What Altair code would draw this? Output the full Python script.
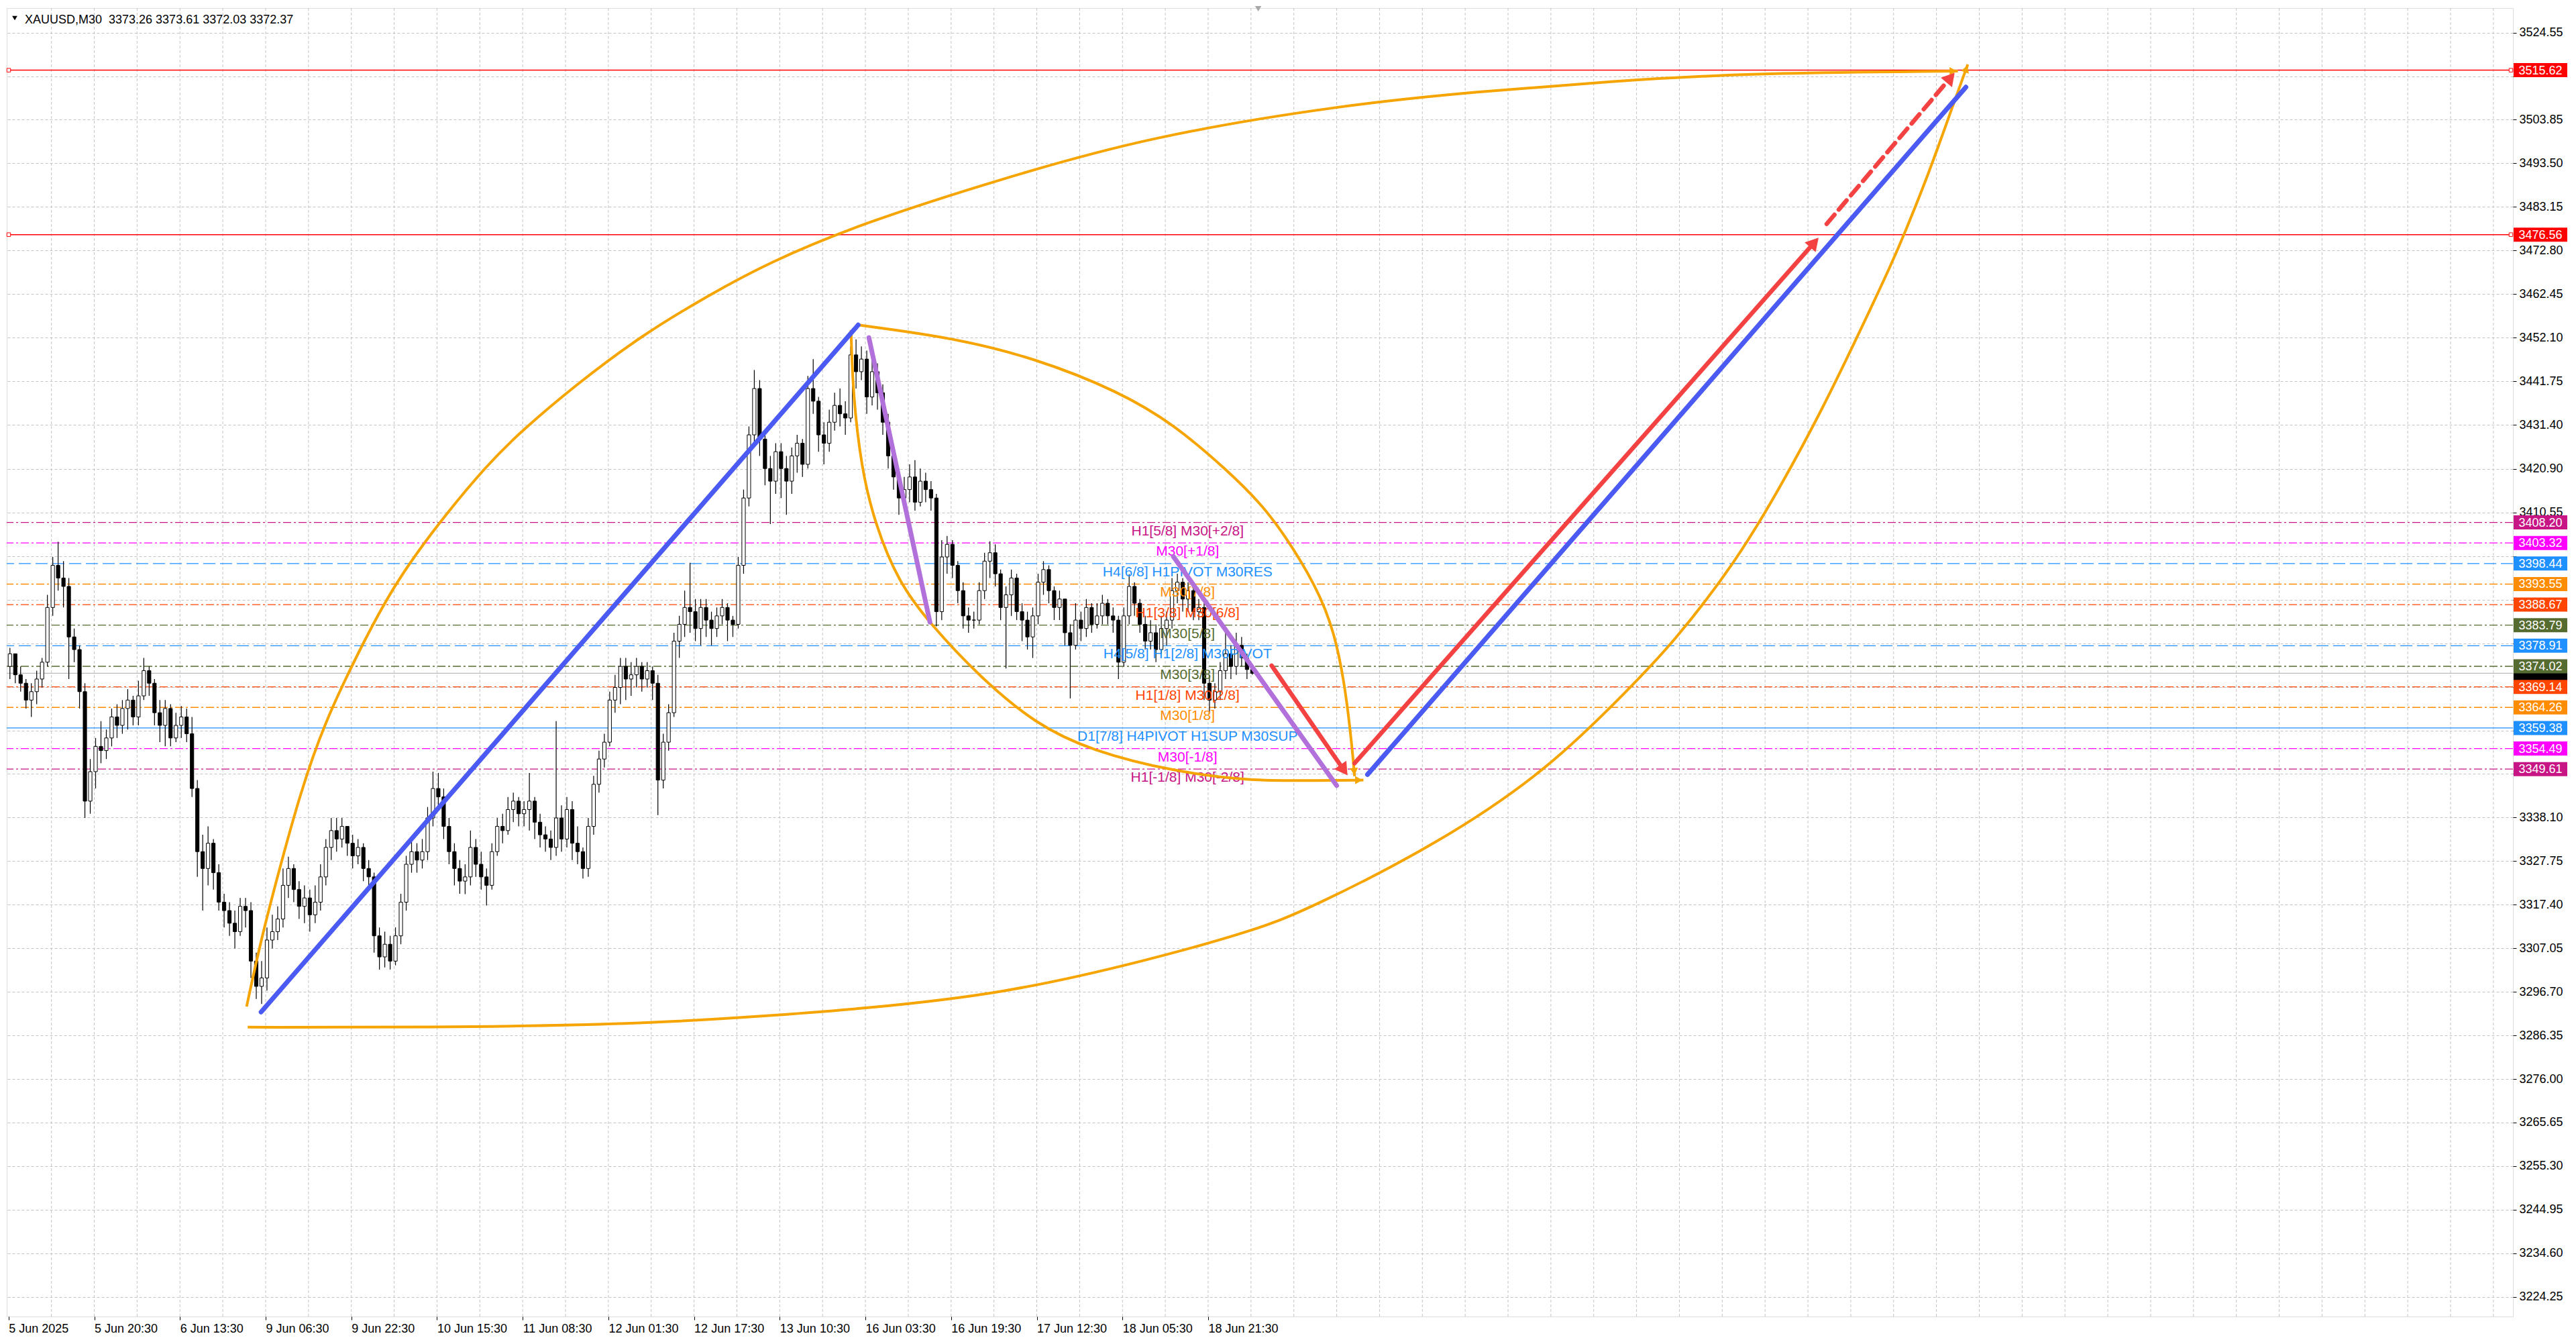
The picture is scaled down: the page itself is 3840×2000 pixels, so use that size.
import math
import altair as alt
import pandas as pd

# ---------------- data ----------------
first_open = 3374.0
closes = [
    3377, 3372, 3370, 3366, 3368, 3371, 3375, 3388, 3398, 3395,
    3393, 3381, 3378, 3368, 3342, 3349, 3355, 3354, 3357, 3362,
    3360, 3364, 3366, 3362, 3367, 3373, 3370, 3363, 3360, 3364,
    3357, 3360, 3362, 3358, 3345, 3330, 3326, 3332, 3325, 3318,
    3316, 3313, 3311, 3317, 3316, 3304, 3298, 3300, 3309, 3311,
    3314, 3322, 3326, 3321, 3317, 3319, 3315, 3318, 3324, 3331,
    3335, 3333, 3336, 3332, 3329, 3331, 3326, 3324, 3310, 3305,
    3308, 3304, 3310, 3318, 3327, 3330, 3328, 3330, 3338, 3345,
    3343, 3336, 3330, 3326, 3323, 3324, 3331, 3327, 3324, 3322,
    3330, 3336, 3335, 3340, 3342, 3339, 3340, 3342, 3337, 3334,
    3333, 3331, 3338, 3333, 3340, 3332, 3330, 3326, 3336, 3346,
    3352, 3356, 3366, 3369, 3374, 3371, 3372, 3374, 3371, 3373,
    3370, 3347, 3356, 3363, 3380, 3384, 3388, 3387, 3383, 3388,
    3385, 3383, 3386, 3388, 3385, 3384, 3398, 3414, 3429, 3440,
    3428, 3421, 3418, 3425, 3421, 3418, 3424, 3427, 3422, 3440,
    3437, 3429, 3427, 3432, 3436, 3434, 3433, 3448, 3444, 3447,
    3438, 3444, 3439, 3432, 3424, 3419, 3414, 3416, 3419, 3413,
    3418, 3416, 3414, 3387, 3400, 3403, 3398, 3392, 3386, 3385,
    3385, 3392, 3399, 3401, 3396, 3388, 3391, 3395, 3387, 3385,
    3381, 3386, 3394, 3397, 3392, 3388, 3390, 3382, 3379, 3385,
    3383, 3388, 3384, 3386, 3389, 3386, 3385, 3375, 3386, 3393,
    3389, 3384, 3380, 3382, 3378, 3383, 3385, 3392, 3394, 3390,
    3392, 3387, 3388, 3370, 3366, 3368, 3373, 3377, 3374, 3379,
    3376, 3373.26, 3372.37,
]
highs = [
    3378.4, 3377, 3374, 3371, 3370, 3373, 3376, 3391, 3400, 3403.6,
    3399, 3395, 3383, 3379, 3370, 3352, 3357, 3361, 3359, 3364,
    3365, 3366, 3368.6, 3367, 3370.6, 3376, 3374, 3371, 3366, 3366,
    3365, 3363, 3364.6, 3364, 3362, 3347, 3334, 3336, 3333, 3327,
    3320, 3318, 3316, 3319, 3319, 3318, 3306, 3304, 3312, 3315,
    3317, 3326, 3328.8, 3327, 3323, 3322, 3321, 3322, 3327, 3333,
    3338, 3338, 3338, 3336, 3334, 3333, 3332, 3328, 3325, 3312,
    3311, 3310, 3312, 3320, 3329, 3333, 3332, 3333, 3340.6, 3349,
    3348.7, 3345, 3338, 3332, 3328, 3327, 3335, 3333, 3330, 3326,
    3332, 3338, 3339, 3343, 3344, 3343, 3342, 3348.7, 3343, 3339,
    3336, 3335, 3361, 3341, 3343, 3342, 3336, 3331, 3338, 3348,
    3354, 3358, 3368, 3372, 3376, 3376, 3375, 3376, 3375, 3375,
    3374, 3372, 3358, 3365, 3382, 3386, 3392, 3398.6, 3390, 3390,
    3390, 3387, 3388, 3390, 3389, 3386, 3400, 3416, 3431, 3444.4,
    3442, 3430, 3424, 3427, 3427, 3424, 3426, 3429, 3428, 3443,
    3447, 3438, 3432, 3435, 3439, 3440, 3437, 3450, 3451.7, 3450,
    3449, 3447, 3446, 3441, 3434, 3426, 3421, 3419, 3422, 3423,
    3421, 3420, 3418, 3415, 3404, 3405, 3404, 3399, 3394, 3388,
    3387, 3394, 3401, 3403.7, 3403, 3397, 3393, 3397, 3396, 3389,
    3387, 3388, 3396, 3399, 3398, 3393, 3392, 3390, 3384, 3389,
    3387, 3390, 3389, 3389, 3391, 3390, 3388, 3386, 3388, 3395.9,
    3394, 3390, 3386, 3385, 3384, 3386, 3387, 3395, 3396, 3395,
    3394, 3393, 3390, 3389, 3372, 3370, 3375, 3383, 3379, 3382,
    3381, 3377, 3373.61,
]
lows = [
    3371, 3370, 3368, 3364, 3362, 3365, 3369, 3374, 3386, 3392,
    3388, 3371, 3375, 3364, 3338, 3339, 3345, 3351, 3352, 3355,
    3357, 3358, 3359, 3360, 3360, 3366, 3367, 3360, 3356, 3355,
    3355, 3356, 3357, 3356, 3343, 3324, 3316, 3322, 3321, 3316,
    3312, 3310, 3307, 3310, 3312, 3300, 3295, 3293.8, 3297, 3307,
    3309, 3312, 3319, 3318, 3314, 3313, 3311, 3313, 3316, 3322,
    3328, 3330, 3331, 3329, 3326, 3327, 3323, 3321, 3306, 3302,
    3302.5, 3302, 3303, 3308, 3316, 3325, 3325, 3326, 3328, 3336,
    3340, 3333, 3327, 3322, 3320, 3319.9, 3322, 3324, 3321, 3317.2,
    3321, 3329, 3332, 3334, 3337, 3336, 3336, 3335, 3333, 3331,
    3330, 3328, 3329, 3330, 3331, 3328, 3327, 3323.6, 3324, 3334,
    3344, 3350, 3355, 3363, 3365, 3366, 3367, 3369, 3368, 3369,
    3366, 3338.7, 3345, 3354, 3362, 3376, 3381, 3382, 3380, 3379,
    3381, 3379, 3381, 3384, 3380, 3381, 3383, 3396, 3412, 3426,
    3424, 3417, 3407.8, 3415, 3414, 3410, 3415, 3420, 3419, 3421,
    3434, 3425, 3422, 3425, 3430, 3431, 3429, 3432, 3440, 3442,
    3434, 3436, 3435, 3429, 3421, 3416, 3410, 3411, 3413, 3411,
    3412, 3413, 3411, 3383.5, 3385, 3396, 3395, 3389, 3383, 3382,
    3383, 3384, 3390, 3395, 3393, 3385, 3373.5, 3386, 3385, 3380,
    3378, 3376, 3384, 3391, 3389, 3385, 3385, 3379, 3366.4, 3378,
    3380, 3381, 3382, 3383, 3384, 3384, 3382, 3371, 3374, 3384,
    3386, 3382, 3378, 3378, 3375, 3377, 3379, 3383, 3389, 3387,
    3387, 3385, 3385, 3366, 3363, 3364, 3366, 3371, 3371, 3372,
    3374, 3371, 3372.03,
]

time_labels = ["5 Jun 2025", "5 Jun 20:30", "6 Jun 13:30", "9 Jun 06:30", "9 Jun 22:30",
               "10 Jun 15:30", "11 Jun 08:30", "12 Jun 01:30", "12 Jun 17:30", "13 Jun 10:30",
               "16 Jun 03:30", "16 Jun 19:30", "17 Jun 12:30", "18 Jun 05:30", "18 Jun 21:30"]
price_ticks = [3524.55, 3514.20, 3503.85, 3493.50, 3483.15, 3472.80, 3462.45, 3452.10, 3441.75,
               3431.40, 3420.90, 3410.55, 3400.20, 3389.85, 3379.50, 3369.15, 3358.80, 3348.45,
               3338.10, 3327.75, 3317.40, 3307.05, 3296.70, 3286.35, 3276.00, 3265.65, 3255.30,
               3244.95, 3234.60, 3224.25]
# tick labels hidden under the coloured price tags
hidden_ticks = [3514.20, 3400.20, 3389.85, 3379.50, 3369.15, 3358.80, 3348.45]

level_prices = [3408.20, 3403.32, 3398.44, 3393.55, 3388.67, 3383.79, 3378.91, 3374.02,
                3369.14, 3364.26, 3359.38, 3354.49, 3349.61]
level_colors = ["#C71585", "#FF00FF", "#1E90FF", "#FF8C00", "#FF4500", "#556B2F", "#1E90FF",
                "#556B2F", "#FF4500", "#FF8C00", "#1E90FF", "#FF00FF", "#C71585"]
level_names = ["H1[5/8] M30[+2/8]", "M30[+1/8]", "H4[6/8] H1PIVOT M30RES", "M30[7/8]",
               "H1[3/8] M30[6/8]", "M30[5/8]", "H4[5/8] H1[2/8] M30PIVOT", "M30[3/8]",
               "H1[1/8] M30[2/8]", "M30[1/8]", "D1[7/8] H4PIVOT H1SUP M30SUP", "M30[-1/8]",
               "H1[-1/8] M30[-2/8]"]
level_styles = ["dashdot", "dashdot", "dash", "dashdot", "dashdot", "dashdot", "dash",
                "dashdot", "dashdot", "dashdot", "solid", "dashdot", "dashdot"]
level_text_k = 219.9

red_levels = [3515.62, 3476.56]
bid_price = 3372.37
header = "XAUUSD,M30\u00a0\u00a03373.26 3373.61 3372.03 3372.37"

# drawn objects (bar index k, price)
blue_k = [[46.9, 158.4], [253.5, 365.25]]
blue_p = [[3291.9, 3455.1], [3348.3, 3511.6]]
purple_k = [[160.4, 171.8], [217.25, 247.75]]
purple_p = [[3452.1, 3384.5], [3400.1, 3345.7]]
red_k = [[235.6, 250.0], [251.1, 338.0]]
red_p = [[3374.2, 3347.7], [3351.0, 3476.2]]
red_dash_k = [339.25, 363.4]
red_dash_p = [3479.1, 3515.4]

outer_top_k = [44.2, 46.6, 49.8, 54.25, 58.7, 65.1, 71.5, 79.75, 89.3, 95.7, 105.3, 118.0,
               130.8, 141.5, 158.5, 185.6, 212.6, 249.0, 274.0, 299.0, 324.0, 363.75]
outer_top_p = [3293.2, 3307.5, 3323.4, 3344.1, 3360.5, 3377.5, 3393.0, 3407.6, 3422.2, 3430.1,
               3440.5, 3452.7, 3462.4, 3469.8, 3479.0, 3490.0, 3499.8, 3507.4, 3510.5, 3513.0,
               3514.9, 3515.4]
outer_bot_k = [44.4, 77.1, 117.75, 141.5, 158.5, 185.6, 212.6, 233.0, 242.75, 266.6, 287.4,
               302.5, 310.5, 322.5, 330.5, 338.4, 346.4, 351.5, 354.0, 357.4, 360.25, 362.75,
               365.6]
outer_bot_p = [3288.3, 3288.2, 3289.0, 3291.0, 3292.6, 3296.2, 3304.2, 3311.5, 3316.5, 3331.8,
               3349.6, 3368.9, 3379.4, 3399.2, 3416.4, 3434.9, 3456.1, 3470.0, 3477.5, 3488.2,
               3498.0, 3507.0, 3517.0]
lens_top_k = [158.4, 176.0, 191.5, 207.1, 217.4, 227.75, 233.6, 237.75, 244.0, 247.4, 249.4,
              250.6, 251.1]
lens_top_p = [3455.1, 3452.1, 3447.2, 3439.3, 3431.5, 3420.1, 3412.6, 3405.8, 3393.0, 3382.0,
              3368.6, 3355.2, 3347.9]
lens_bot_k = [157.06, 157.4, 159.0, 161.5, 165.9, 171.9, 181.1, 191.5, 201.9, 217.4, 231.5,
              244.0, 252.75]
lens_bot_p = [3453.9, 3439.0, 3421.0, 3408.0, 3394.0, 3384.0, 3371.5, 3360.3, 3354.0, 3349.0,
              3346.8, 3346.9, 3347.0]

# ---------------- layout ----------------
W, H = 3736, 1950
XDOM = [-0.6, 467.4]
YDOM = [3219.58, 3530.38]
PXK = W / (XDOM[1] - XDOM[0])
PXP = H / (YDOM[1] - YDOM[0])
FONT = "Liberation Sans"
ORANGE = "#F5A400"
BLUE = "#4A5AF2"
PURPLE = "#B170DA"
RED = "#F44242"
GRID = "#C4C4C4"

xs = alt.Scale(domain=XDOM, nice=False, zero=False)
ys = alt.Scale(domain=YDOM, nice=False, zero=False)

x_label_expr = "[" + ",".join("'" + t + "'" for t in time_labels) + "][round((datum.value + 0.25) / 16)]"
y_hide = " || ".join("abs(datum.value - %.2f) < 0.01" % v for v in hidden_ticks)
y_label_expr = "(%s) ? '' : format(datum.value, '.2f')" % y_hide
X_AXIS = alt.Axis(
    values=[16 * j - 0.25 for j in range(len(time_labels))], labelExpr=x_label_expr,
    labelAlign="left", labelBaseline="top", labelPadding=4, tickSize=5, tickColor="black",
    domain=False, grid=False, labelFont=FONT, labelFontSize=18, labelColor="black",
    title=None, labelOverlap=False, labelFlush=False, labelBound=False)
Y_AXIS = alt.Axis(
    orient="right", values=price_ticks, labelExpr=y_label_expr, labelFont=FONT, labelFontSize=18,
    labelColor="black", tickSize=5, tickColor="black", labelPadding=4, grid=True,
    gridColor=GRID, gridDash=[4, 3], gridWidth=1, domain=False, title=None,
    labelOverlap=False, labelFlush=False, labelBound=False)


def X(f="k"):
    return alt.X(f + ":Q", scale=xs, axis=X_AXIS, title=None)


def Y(f="p"):
    return alt.Y(f + ":Q", scale=ys, axis=Y_AXIS, title=None)


# candles
opens = [first_open] + closes[:-1]
cdf = pd.DataFrame({
    "k": list(range(len(closes))),
    "o": opens,
    "c": closes,
    "h": [max(h, o, c) for h, o, c in zip(highs, opens, closes)],
    "l": [min(l, o, c) for l, o, c in zip(lows, opens, closes)],
})
cdf["fill"] = ["white" if c >= o else "black" for o, c in zip(cdf["o"], cdf["c"])]

wicks = alt.Chart(cdf).mark_rule(color="black", strokeWidth=1.2).encode(
    x=X(), y=Y("l"), y2="h:Q")
bodies = alt.Chart(cdf).transform_calculate(
    x1="datum.k - 0.32", x2="datum.k + 0.32"
).mark_rect(stroke="black", strokeWidth=1).encode(
    x=X("x1"), x2="x2:Q", y=Y("o"), y2="c:Q", fill=alt.Color("fill:N", scale=None)
)

# vertical grid
vgrid = alt.Chart(pd.DataFrame({"k": [8 * m - 0.25 for m in range(1, 59)]})).mark_rule(
    color=GRID, strokeDash=[4, 3], strokeWidth=1).encode(x=X())

# level lines
ldf = pd.DataFrame({"p": level_prices, "c": level_colors, "t": level_names, "s": level_styles,
                    "k": [level_text_k] * len(level_prices)})
dashes = {"dashdot": [12, 4, 3, 4], "dash": [18, 7], "solid": [1, 0]}
level_layers = []
for style, dash in dashes.items():
    level_layers.append(
        alt.Chart(ldf[ldf["s"] == style]).mark_rule(strokeWidth=1.3, strokeDash=dash).encode(
            y=Y(), color=alt.Color("c:N", scale=None)))
red_lines = alt.Chart(pd.DataFrame({"p": red_levels})).mark_rule(color="#FF0000", strokeWidth=1.5).encode(y=Y())
bid_line = alt.Chart(pd.DataFrame({"p": [bid_price]})).mark_rule(color="#BBBBBB", strokeWidth=1.2).encode(y=Y())
level_text = alt.Chart(ldf).mark_text(font=FONT, fontSize=21, align="center", baseline="alphabetic", dy=19).encode(
    x=X(), y=Y(), text="t:N", color=alt.Color("c:N", scale=None))


# polylines
def path_df(ks, ps):
    rows = []
    for i, (kk, pp) in enumerate(zip(ks, ps)):
        for a, b in zip(kk, pp):
            rows.append({"id": i, "k": a, "p": b})
    return pd.DataFrame(rows)


def head(kt, pt, kf, pf, size):
    dxp = (kt - kf) * PXK
    dyp = -(pt - pf) * PXP
    L = math.hypot(dxp, dyp)
    off = 0.577 * math.sqrt(size)
    ang = math.degrees(math.atan2(dxp, -dyp)) % 360
    return kt - off * dxp / L / PXK, pt + off * dyp / L / PXP, ang


heads = []
curves_k = [outer_top_k, outer_bot_k, lens_top_k, lens_bot_k]
curves_p = [outer_top_p, outer_bot_p, lens_top_p, lens_bot_p]
for ck, cp in zip(curves_k, curves_p):
    kc, pc, ang = head(ck[-1], cp[-1], ck[-2], cp[-2], 150)
    heads.append({"k": kc, "p": pc, "ang": ang, "sz": 150, "c": ORANGE})

orange = alt.Chart(path_df(curves_k, curves_p)).mark_line(
    color=ORANGE, strokeWidth=4, interpolate="basis", strokeCap="butt").encode(
    x=X(), y=Y(), detail="id:N")
blue = alt.Chart(path_df(blue_k, blue_p)).mark_line(color=BLUE, strokeWidth=7, strokeCap="round").encode(
    x=X(), y=Y(), detail="id:N")
purple = alt.Chart(path_df(purple_k, purple_p)).mark_line(color=PURPLE, strokeWidth=7, strokeCap="round").encode(
    x=X(), y=Y(), detail="id:N")

red_shaft_k, red_shaft_p = [], []
for kk, pp in zip(red_k, red_p):
    kc, pc, ang = head(kk[1], pp[1], kk[0], pp[0], 480)
    heads.append({"k": kc, "p": pc, "ang": ang, "sz": 480, "c": RED})
    red_shaft_k.append([kk[0], kc])
    red_shaft_p.append([pp[0], pc])
kc, pc, ang = head(red_dash_k[1], red_dash_p[1], red_dash_k[0], red_dash_p[0], 480)
heads.append({"k": kc, "p": pc, "ang": ang, "sz": 480, "c": RED})
red_solid = alt.Chart(path_df(red_shaft_k, red_shaft_p)).mark_line(
    color=RED, strokeWidth=6.5, strokeCap="round").encode(x=X(), y=Y(), detail="id:N")
red_dashed = alt.Chart(path_df([[red_dash_k[0], kc]], [[red_dash_p[0], pc]])).mark_line(
    color=RED, strokeWidth=6.5, strokeDash=[18, 10], strokeCap="round").encode(x=X(), y=Y())

head_layer = alt.Chart(pd.DataFrame(heads)).mark_point(
    filled=True, opacity=1, strokeWidth=0, shape="triangle-up").encode(
    x=X(), y=Y(), angle=alt.Angle("ang:Q", scale=None), size=alt.Size("sz:Q", scale=None),
    color=alt.Color("c:N", scale=None))

# handles on the red horizontal lines
handles = alt.Chart(pd.DataFrame({"p": red_levels})).mark_point(
    shape="square", size=30, filled=True, fill="white", stroke="#FF0000", strokeWidth=1, opacity=1)
handle_l = handles.encode(x=alt.value(3), y=Y())
handle_r = handles.encode(x=alt.value(W - 3), y=Y())

# price tags on the right (the bid tag lies under the 3374.02 tag, only its edge shows)
tag_rows = [{"p": p, "c": "#FF0000", "lab": "%.2f" % p} for p in red_levels]
tag_rows.append({"p": bid_price, "c": "#000000", "lab": ""})
tag_rows += [{"p": p, "c": c, "lab": "%.2f" % p} for p, c in zip(level_prices, level_colors)]
tdf = pd.DataFrame(tag_rows)
tdf["order"] = range(len(tdf))
half = 10.5 / PXP
tags = alt.Chart(tdf).transform_calculate(
    top="datum.p + %f" % half, bot="datum.p - %f" % half
).mark_rect().encode(
    x=alt.value(W + 1), x2=alt.value(W + 81), y=Y("top"), y2="bot:Q",
    color=alt.Color("c:N", scale=None), order="order:Q")
tag_text = alt.Chart(tdf[tdf["lab"] != ""]).mark_text(
    font=FONT, fontSize=18, color="white", align="center", baseline="middle", dy=1).encode(
    x=alt.value(W + 41), y=Y(), text="lab:N")

one = pd.DataFrame({"a": [0]})
header_tri = alt.Chart(one).mark_point(shape="triangle-down", filled=True, color="black",
                                       size=60, opacity=1).encode(x=alt.value(12), y=alt.value(15))
header_text = alt.Chart(one).mark_text(text=header, font=FONT, fontSize=18, align="left",
                                       baseline="alphabetic", color="black").encode(
    x=alt.value(27), y=alt.value(23))
shift_mark = alt.Chart(pd.DataFrame({"k": [233.1]})).mark_point(
    shape="triangle-down", filled=True, color="#A8A8A8", size=90, opacity=1).encode(
    x=X(), y=alt.value(1))

chart = alt.layer(
    vgrid, *level_layers, red_lines, bid_line, wicks, bodies, level_text,
    orange, blue, purple, red_solid, red_dashed, head_layer,
    handle_l, handle_r, tags, tag_text, header_tri, header_text, shift_mark,
).properties(
    width=W, height=H, padding={"left": 0, "top": 0, "right": 0, "bottom": 0}
).configure_view(stroke="black", strokeWidth=1.5).configure(background="white")

chart.save("out.html", embed_options={"renderer": "svg", "actions": False})
